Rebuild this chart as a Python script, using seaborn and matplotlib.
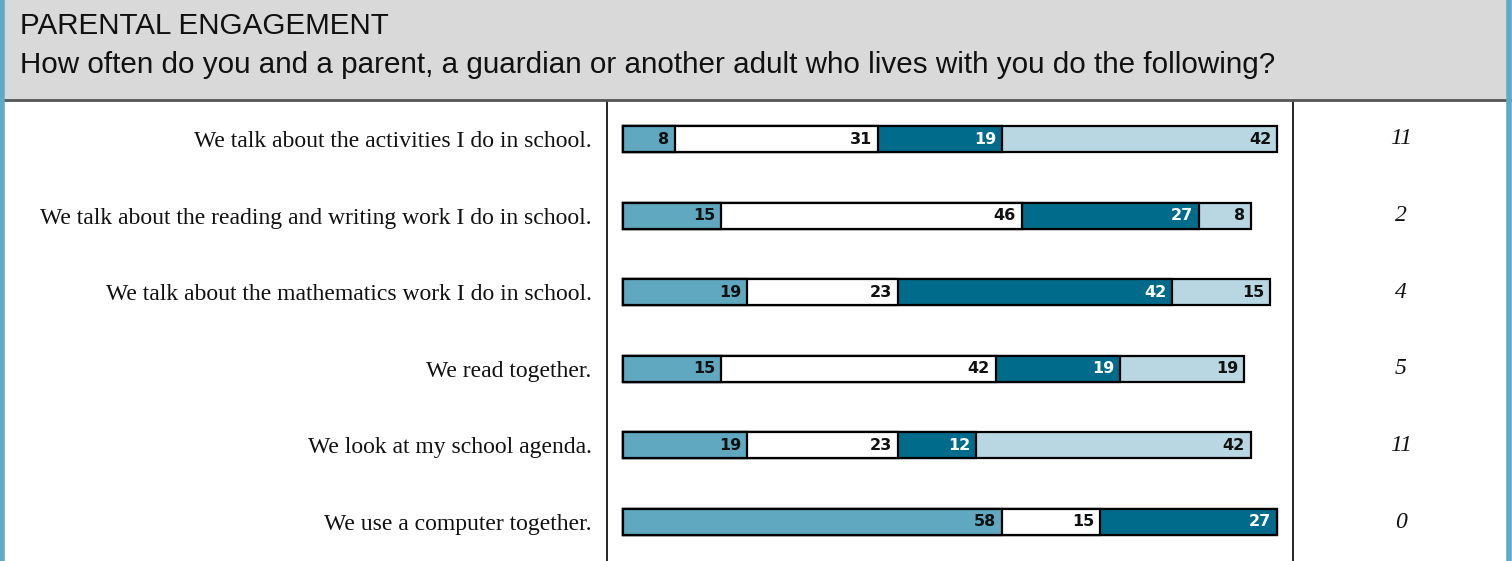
import matplotlib
matplotlib.use('Agg')
import matplotlib.pyplot as plt
import matplotlib.transforms as mtransforms
from matplotlib.patches import Rectangle
from matplotlib.lines import Line2D
import numpy as np
import pandas as pd
import seaborn as sns

# Datos
statements = [
    "We talk about the activities I do in school.",
    "We talk about the reading and writing work I do in school.",
    "We talk about the mathematics work I do in school.",
    "We read together.",
    "We look at my school agenda.",
    "We use a computer together.",
]
seg1 = [8, 15, 19, 15, 19, 58]
seg2 = [31, 46, 23, 42, 23, 15]
seg3 = [19, 27, 42, 19, 12, 27]
seg4 = [42, 8, 15, 19, 42, 0]
missing = [11, 2, 4, 5, 11, 0]

colors = ["#5FA8C0", "#FFFFFF", "#006B8A", "#B9D7E2"]
text_colors = ["#111111", "#111111", "#FFFFFF", "#111111"]

df = pd.DataFrame({"statement": statements, "s1": seg1, "s2": seg2, "s3": seg3, "s4": seg4})
segs = ["s1", "s2", "s3", "s4"]
cum = df[segs].cumsum(axis=1)

sns.set_style("white")

W, H = 1512, 561
fig = plt.figure(figsize=(W / 100, H / 100), dpi=100)

# Cabecera gris
fig.patches.append(Rectangle((0, 1 - 100 / H), 1, 100 / H, transform=fig.transFigure,
                             facecolor="#D9D9D9", edgecolor="none", zorder=0))
fig.lines.append(Line2D([0, 1], [1 - 100 / H, 1 - 100 / H], transform=fig.transFigure,
                        color="#555555", lw=2, zorder=3))
fig.text(20 / W, 1 - 34 / H, "PARENTAL ENGAGEMENT", fontsize=21.3,
         family="Liberation Sans", va="baseline", ha="left", color="#111111")
fig.text(20 / W, 1 - 73 / H,
         "How often do you and a parent, a guardian or another adult who lives with you do the following?",
         fontsize=21.3, family="Liberation Sans", va="baseline", ha="left", color="#111111")

# Eje principal de barras
x0, x1 = 607, 1293
ax = fig.add_axes([x0 / W, 0, (x1 - x0) / W, (H - 101) / H])
for i in range(len(segs) - 1, -1, -1):
    sns.barplot(x=cum[segs[i]], y=df["statement"], order=statements, orient="h",
                color=colors[i], saturation=1, edgecolor="black", linewidth=1.6,
                width=0.34, ax=ax)

px = 6.54
ax.set_xlim(-16 / px, (x1 - x0 - 16) / px)
ax.set_ylim(5 + 39 / 76.6, -38 / 76.6)
ax.set_xlabel("")
ax.set_ylabel("")
ax.set_xticks([])
ax.tick_params(axis="y", length=0, pad=11)
for lab in ax.get_yticklabels():
    lab.set_family("Liberation Serif")
    lab.set_fontsize(17)
    lab.set_color("#111111")
for side in ["top", "bottom"]:
    ax.spines[side].set_visible(False)
for side in ["left", "right"]:
    ax.spines[side].set_color("black")
    ax.spines[side].set_linewidth(1.2)

# Etiquetas de los segmentos
for r in range(len(statements)):
    for i, s in enumerate(segs):
        v = df.loc[r, s]
        if v <= 0:
            continue
        ax.text(cum.loc[r, s] - 0.9, r, str(v), ha="right", va="center",
                fontsize=11.5, fontweight="bold", color=text_colors[i],
                family="DejaVu Sans")

# Columna derecha (omitidos)
trans = mtransforms.blended_transform_factory(fig.transFigure, ax.transData)
for r, m in enumerate(missing):
    ax.text(1401 / W, r, str(m), transform=trans, ha="center", va="center",
            fontsize=17, style="italic", family="Liberation Serif", color="#111111")

# Bordes laterales azules
for xx in [1.5 / W, 1 - 3.5 / W]:
    fig.lines.append(Line2D([xx, xx], [0, 1], transform=fig.transFigure,
                            color="#5FAAC6", lw=4, zorder=5))

fig.savefig("out.png", dpi=100)
